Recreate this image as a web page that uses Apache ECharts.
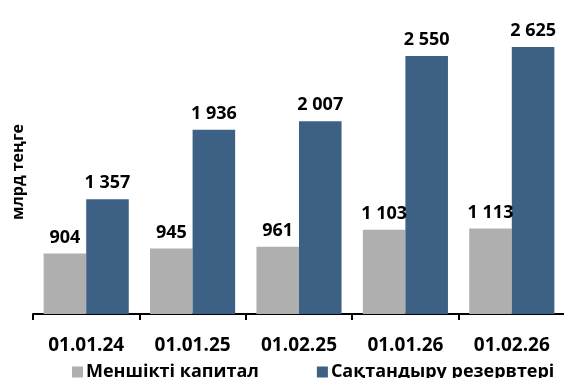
<!DOCTYPE html>
<html><head><meta charset="utf-8">
<script src="https://cdn.jsdelivr.net/npm/echarts@6/dist/echarts.min.js"></script>
<style>html,body{margin:0;padding:0;background:#fff}#c{width:564px;height:378px}</style>
</head><body><div id="c"></div>
<script>
const categories = ['01.01.24','01.01.25','01.02.25','01.01.26','01.02.26'];
const equity = [904, 945, 961, 1103, 1113];
const reserves = [1357, 1936, 2007, 2550, 2625];
const seriesNames = ['Меншікті капитал', 'Сақтандыру резервтері'];
const yName = 'млрд теңге';

const FONT = '"Open Sans", sans-serif';
const fmt = v => String(v.value).replace(/\B(?=(\d{3})+(?!\d))/g, ' ');
const lbl = {show:true, position:'top', distance:7, fontFamily:FONT, fontWeight:'bold', fontSize:18, color:'#000', formatter:fmt};

const chart = echarts.init(document.getElementById('c'));
chart.setOption({
  animation:false,
  grid:{left:33, right:-1, top:2, bottom:64, containLabel:false, outerBoundsMode:'none'},
  legend:{top:358, left:67, itemWidth:11, itemHeight:11, itemGap:58, icon:'rect',
    textStyle:{fontFamily:FONT, fontWeight:'bold', fontSize:18, color:'#000', padding:[0,0,0,-2]},
    data:seriesNames},
  graphic:[{type:'text', x:18, y:172, rotation:Math.PI/2,
    style:{text:yName, x:0, y:0, align:'center', verticalAlign:'middle',
      fontFamily:FONT, fontWeight:'bold', fontSize:16, fill:'#000'}}],
  xAxis:{type:'category', data:categories,
    axisLine:{lineStyle:{color:'#000', width:2}},
    axisTick:{show:true, length:6, lineStyle:{color:'#000', width:2}},
    axisLabel:{fontFamily:FONT, fontWeight:'bold', fontSize:19, color:'#000', margin:22}},
  yAxis:{type:'value', min:400, max:3000, show:true,
    axisLine:{show:false}, axisTick:{show:false}, axisLabel:{show:false}, splitLine:{show:false}},
  series:[
    {name:seriesNames[0], type:'bar', data:equity, barGap:'0%', barCategoryGap:'20%',
     itemStyle:{color:'#AFAFAF'}, label:lbl},
    {name:seriesNames[1], type:'bar', data:reserves, barGap:'0%', barCategoryGap:'20%',
     itemStyle:{color:'#3D6085'}, label:lbl}
  ]
});
</script></body></html>
